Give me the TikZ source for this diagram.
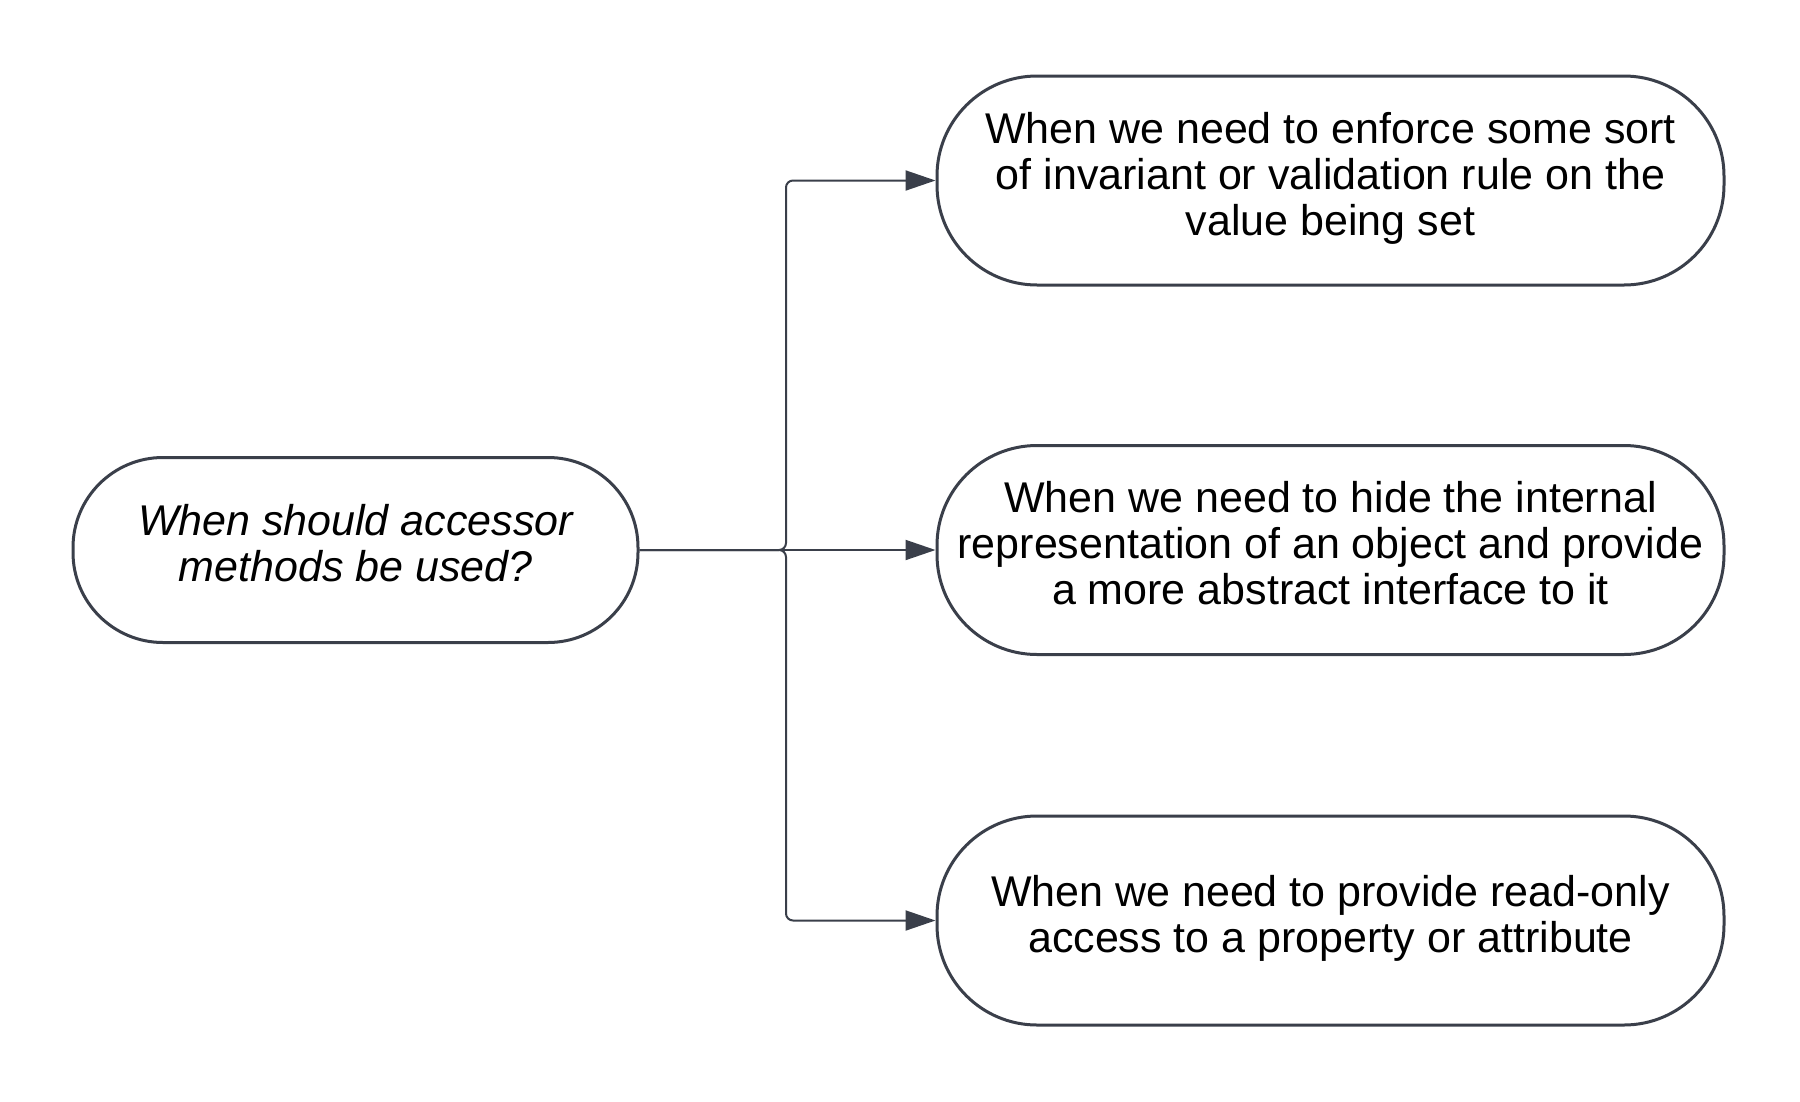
\documentclass[tikz,border=0pt]{standalone}
\usepackage{fontspec}
\setmainfont{Liberation Sans}
\usetikzlibrary{arrows.meta}
\definecolor{linegray}{RGB}{58,63,74}
\newcommand{\linestrut}{\rule[-14pt]{0pt}{46pt}}

\begin{document}
\begin{tikzpicture}[x=1pt,y=1pt,
    pill/.style={draw=linegray, line width=3pt, fill=white, align=center,
        inner sep=0pt, font=\fontsize{43}{46}\selectfont,
        execute at begin node=\linestrut, execute at end node=\linestrut},
    question/.style={pill, minimum width=565pt, minimum height=185pt, rounded corners=90pt},
    answer/.style={pill, minimum width=787pt, minimum height=209pt, rounded corners=100pt},
    conn/.style={draw=linegray, line width=2pt, rounded corners=7pt,
        -{Triangle[length=30pt,width=20pt]}}]
        \useasboundingbox (0,0) rectangle (1800,-1101);
        \node[question] (q) at (355.5,-550) {\itshape When should accessor\\\itshape methods be used?};
        \node[answer] (a1) at (1330.5,-180.5) {When we need to enforce some sort\\of invariant or validation rule on the\\value being set};
        \node[answer] (a2) at (1330.5,-550) {When we need to hide the internal\\representation of an object and provide\\a more abstract interface to it};
        \node[answer] (a3) at (1330.5,-920.5) {When we need to provide read-only\\access to a property or attribute};
        \coordinate (j) at (786,-550);
        \draw[conn] (q.east) -- (j) |- (a1.west);
        \draw[conn] (q.east) -- (a2.west);
        \draw[conn] (q.east) -- (j) |- (a3.west);
    \end{tikzpicture}
\end{document}
